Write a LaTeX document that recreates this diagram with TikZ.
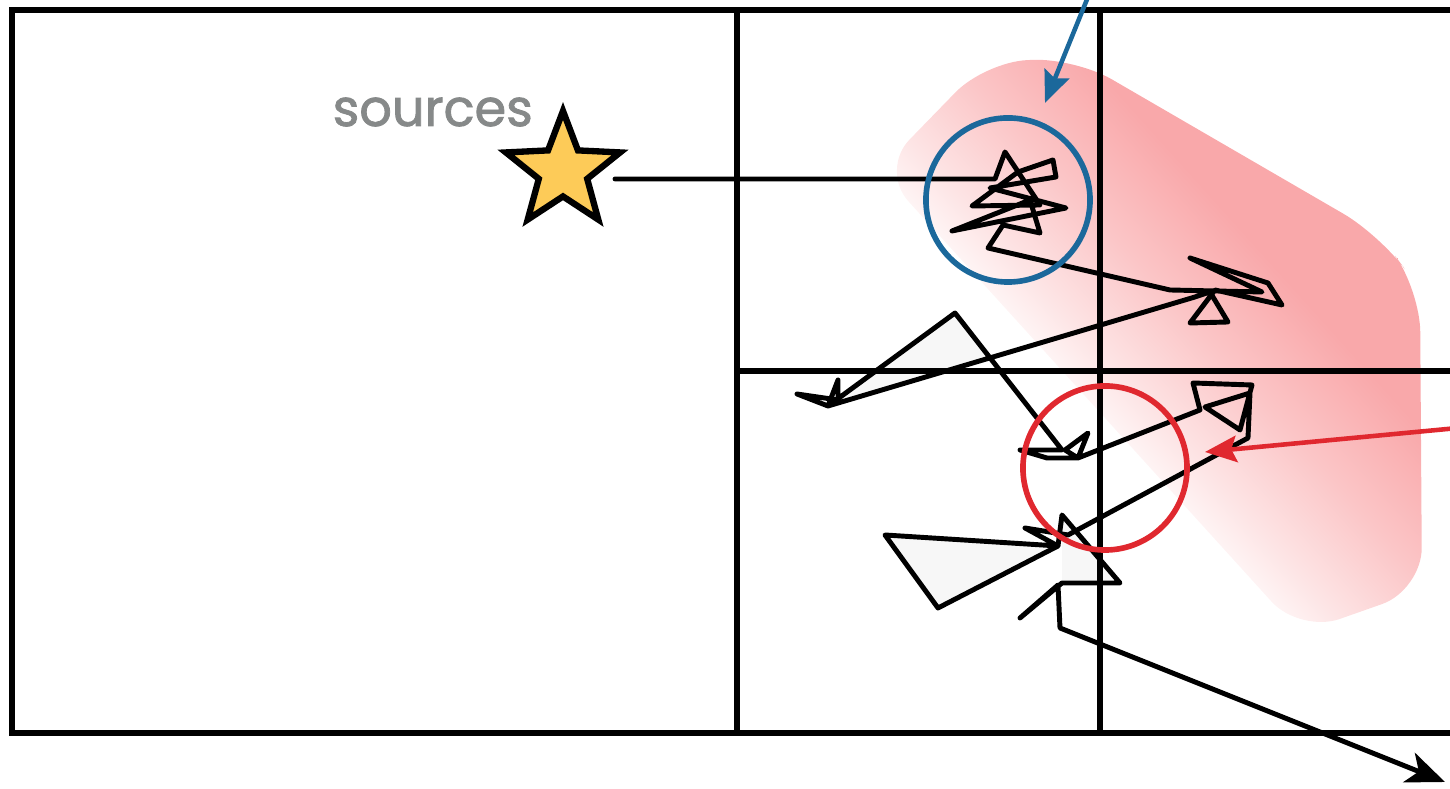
\documentclass[tikz,border=0pt]{standalone}
\usepackage{fontspec}
\usepackage{tikz}
\usetikzlibrary{shapes.geometric,positioning,calc,arrows.meta}
\newfontfamily\labelfont{Poppins}[FakeBold=1.6]
\definecolor{cloudpink}{HTML}{F9A8AA}
\definecolor{probeblue}{HTML}{1B689B}
\definecolor{probered}{HTML}{E0282F}
\definecolor{starfill}{HTML}{FDCB58}
\definecolor{labelgray}{HTML}{868989}
\definecolor{walkfill}{HTML}{F7F7F7}
\pgfdeclareverticalshading{cloudfade}{100bp}{color(0bp)=(white); color(40bp)=(white); color(46bp)=(cloudpink!30!white); color(54bp)=(cloudpink!66!white); color(63bp)=(cloudpink); color(100bp)=(cloudpink)}

\begin{document}
\begin{tikzpicture}[x=0.01cm, y=-0.01cm,
  cell/.style={line width=1.7pt},
  walk/.style={line width=1.4pt, line join=round, line cap=round},
  probe/.style={draw, circle, line width=1.6pt, minimum size=1.64cm, inner sep=0pt},
  pointer/.style={line width=1.3pt, -{Stealth[length=9pt, width=7.5pt, inset=1.5pt]}}]
  \useasboundingbox (0,0) rectangle (1450,789);

  % pink cloud behind the cells
  \shade[shading=cloudfade, shading angle=-48, rounded corners=12pt]
    (880,170) -- (985,62) -- (1075,58) -- (1380,235) -- (1420,290) -- (1422,590) -- (1300,633) -- cycle;

  % faint fills inside the walk
  \fill[walkfill] (828,406) -- (955,313) -- (990,358) -- cycle;
  \fill[walkfill] (885,535) -- (938,608) -- (1058,546) -- cycle;
  \fill[walkfill] (1062,515) -- (1120,583) -- (1062,583) -- cycle;

  % cells
  \draw[cell] (1460,10) -- (12,10) -- (12,733) -- (1460,733);
  \foreach \x in {737,1100}
    \draw[cell] (\x,10) -- (\x,733);
  \draw[cell] (737,371) -- (1460,371);

  % source
  \node[star, star points=5, star point ratio=2.36, minimum size=1.2cm, inner sep=0pt,
        draw, fill=starfill, line width=1.8pt] (src) at (563,171) {};
  \node[anchor=base west, inner sep=0pt, text=labelgray, font=\labelfont\fontsize{14.5}{18}\selectfont] (srclabel) at (332,126) {sources};

  % random walk
  \coordinate (start) at ($(src.center)+(52,8)$);
  \coordinate (exit) at (1445,782);
  \draw[walk, -{Stealth[length=11pt, width=9pt, inset=3pt]}] (start) -- (995,179) -- (1005,152) -- (1040,205) -- (972,206)
    -- (1018,172) -- (1053,160) -- (1056,177) -- (990,188) -- (1066,208) -- (952,231) -- (1030,200)
    -- (1040,233) -- (1003,225) -- (988,248) -- (1170,290) -- (1262,292) -- (1190,258) -- (1268,283)
    -- (1282,305) -- (1215,290) -- (1190,323) -- (1228,322) -- (1210,292) -- (1195,297) -- (828,406)
    -- (797,394) -- (838,400) -- (838,380) -- (828,406) -- (955,313) -- (1062,450) -- (1020,450)
    -- (1047,458) -- (1078,458) -- (1088,433) -- (1065,450) -- (1078,458) -- (1200,410) -- (1193,383)
    -- (1252,385) -- (1240,430) -- (1205,407) -- (1250,393) -- (1248,438) -- (1068,535) -- (1025,528)
    -- (1058,546) -- (885,535) -- (938,608) -- (1058,546) -- (1062,515) -- (1120,583) -- (1062,583)
    -- (1020,618) -- (1058,585) -- (1060,628) -- (exit);

  % probes
  \node[probe, draw=probeblue] (probeA) at (1008,200) {};
  \node[probe, draw=probered] (probeB) at (1105,468) {};

  % pointers
  \coordinate (blueTail) at (1090,-8);
  \coordinate (blueTip) at (1045,103);
  \coordinate (redTail) at (1458,428);
  \coordinate (redTip) at (1205,452);
  \draw[pointer, probeblue] (blueTail) -- (blueTip);
  \draw[pointer, probered] (redTail) -- (redTip);
\end{tikzpicture}
\end{document}
